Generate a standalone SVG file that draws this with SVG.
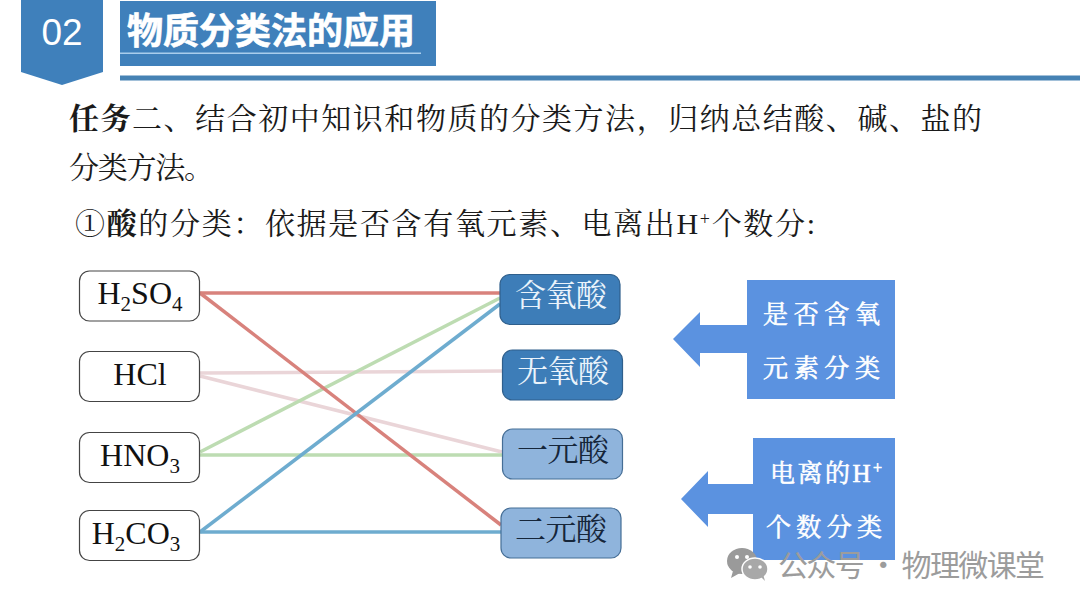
<svg xmlns="http://www.w3.org/2000/svg" width="1080" height="608" viewBox="0 0 1080 608">
<style>
text{font-family:"Liberation Serif","Noto Serif CJK SC","Noto Sans CJK SC",serif}
.h{fill:#3f80bb}
.body{font-size:30px;fill:#1a1a1a}
.left rect{fill:#fff;stroke:#444;stroke-width:1.2}
.left text{font-size:32px;fill:#111;text-anchor:middle}
.sub{font-size:21px}
.dark rect{fill:#3d7db8;stroke:#2f5f8c;stroke-width:1.2}
.dark text{font-size:31px;fill:#eaf3fb;text-anchor:middle}
.light rect{fill:#8fb4dc;stroke:#456e96;stroke-width:1.2}
.light text{font-size:31px;fill:#16263a;text-anchor:middle}
.call path{fill:#5b92e0}
.call text{font-size:25px;fill:#fff;stroke:#fff;stroke-width:.6}
#connectors line{stroke-width:3.5;fill:none}
.r{stroke:#d8827c}.p{stroke:#ead5d8}.g{stroke:#bddcb2}.b{stroke:#6eaccf}
</style>
<rect width="1080" height="608" fill="#fff"/>
<g id="header">
<path class="h" d="M21 0H103V72L62 85L21 72Z"/>
<text x="62" y="45" text-anchor="middle" style="font-family:'Liberation Sans',sans-serif;font-size:37px" fill="#fff">02</text>
<rect class="h" x="120" y="1" width="316" height="65"/>
<rect x="120" y="52.500" width="301" height="1.500" fill="#a9cdec"/>
<text x="127" y="44" textLength="288" style="font-family:'Noto Sans CJK SC',sans-serif;font-size:36px;font-weight:700" fill="#fff" stroke="#fff" stroke-width=".6">物质分类法的应用</text>
<rect x="120" y="75.500" width="960" height="5" fill="#4682b4"/>
</g>
<g id="task">
<text class="body" x="69" y="129" textLength="913"><tspan font-weight="700">任务</tspan>二、结合初中知识和物质的分类方法，归纳总结酸、碱、盐的</text>
<text class="body" x="69" y="178" textLength="145">分类方法。</text>
<text class="body" x="75" y="234" textLength="740">①<tspan font-weight="700">酸</tspan>的分类：依据是否含有氧元素、电离出H<tspan font-size="18" dy="-9">+</tspan><tspan dy="9">个数分:</tspan></text>
</g>
<g id="connectors">
<line class="p" x1="200" y1="373" x2="502" y2="371"/>
<line class="p" x1="200" y1="376" x2="502" y2="452"/>
<line class="g" x1="200" y1="452" x2="500" y2="298"/>
<line class="g" x1="200" y1="455" x2="502" y2="455"/>
<line class="r" x1="200" y1="293" x2="500" y2="293"/>
<line class="r" x1="200" y1="293" x2="501" y2="525"/>
<line class="b" x1="200" y1="532" x2="500" y2="304"/>
<line class="b" x1="200" y1="532" x2="501" y2="532"/>
</g>
<g id="n-h2so4" class="left"><rect x="79.500" y="271" width="120" height="50" rx="10"/><text x="140" y="304">H<tspan class="sub" dy="7">2</tspan><tspan dy="-7">SO</tspan><tspan class="sub" dy="7">4</tspan></text></g>
<g id="n-hcl" class="left"><rect x="79.500" y="351.500" width="120" height="50" rx="10"/><text x="140" y="385">HCl</text></g>
<g id="n-hno3" class="left"><rect x="79.500" y="432.500" width="120" height="50" rx="10"/><text x="140" y="466">HNO<tspan class="sub" dy="7">3</tspan></text></g>
<g id="n-h2co3" class="left"><rect x="79.500" y="510.500" width="120" height="50" rx="10"/><text x="136" y="544">H<tspan class="sub" dy="7">2</tspan><tspan dy="-7">CO</tspan><tspan class="sub" dy="7">3</tspan></text></g>
<g id="n-hanyang" class="dark"><rect x="500" y="274.500" width="120" height="50" rx="10"/><text x="561" y="306" textLength="92">含氧酸</text></g>
<g id="n-wuyang" class="dark"><rect x="502.500" y="350" width="120" height="50" rx="10"/><text x="563" y="382" textLength="92">无氧酸</text></g>
<g id="n-yiyuan" class="light"><rect x="502.500" y="429" width="120" height="50" rx="10"/><text x="563" y="461" textLength="92">一元酸</text></g>
<g id="n-eryuan" class="light"><rect x="501" y="508" width="120" height="50" rx="10"/><text x="561" y="540" textLength="92">二元酸</text></g>
<g id="callout-1" class="call">
<path d="M747 280H895V399H747V353H700V367L673 339L700 312V325H747Z"/>
<text x="763" y="323" textLength="117">是否含氧</text>
<text x="763" y="377" textLength="117">元素分类</text>
</g>
<g id="callout-2" class="call">
<path d="M753 438H895V560H753V514H708V527L681 499L708 471V484H753Z"/>
<text x="770" y="482" textLength="112">电离的H<tspan font-size="16" dy="-9">+</tspan></text>
<text x="766" y="536" textLength="116">个数分类</text>
</g>
<g id="watermark">
<ellipse cx="742" cy="561" rx="15" ry="13" fill="#9a9a9a"/>
<path d="M733 571L731 578L740 573Z" fill="#9a9a9a"/>
<ellipse cx="755" cy="569" rx="13" ry="11" fill="#a8a8a8" stroke="#fff" stroke-width="1.500"/>
<path d="M761 577L765 581L763 574Z" fill="#a8a8a8"/>
<circle cx="737" cy="557" r="2" fill="#fff"/><circle cx="747" cy="557" r="2" fill="#fff"/>
<circle cx="750" cy="567" r="1.800" fill="#fff"/><circle cx="760" cy="567" r="1.800" fill="#fff"/>
<text x="778" y="576" textLength="267" style="font-family:'Noto Sans CJK SC',sans-serif;font-size:30px" fill="#9c9c9c">公众号 · 物理微课堂</text>
</g>
</svg>
